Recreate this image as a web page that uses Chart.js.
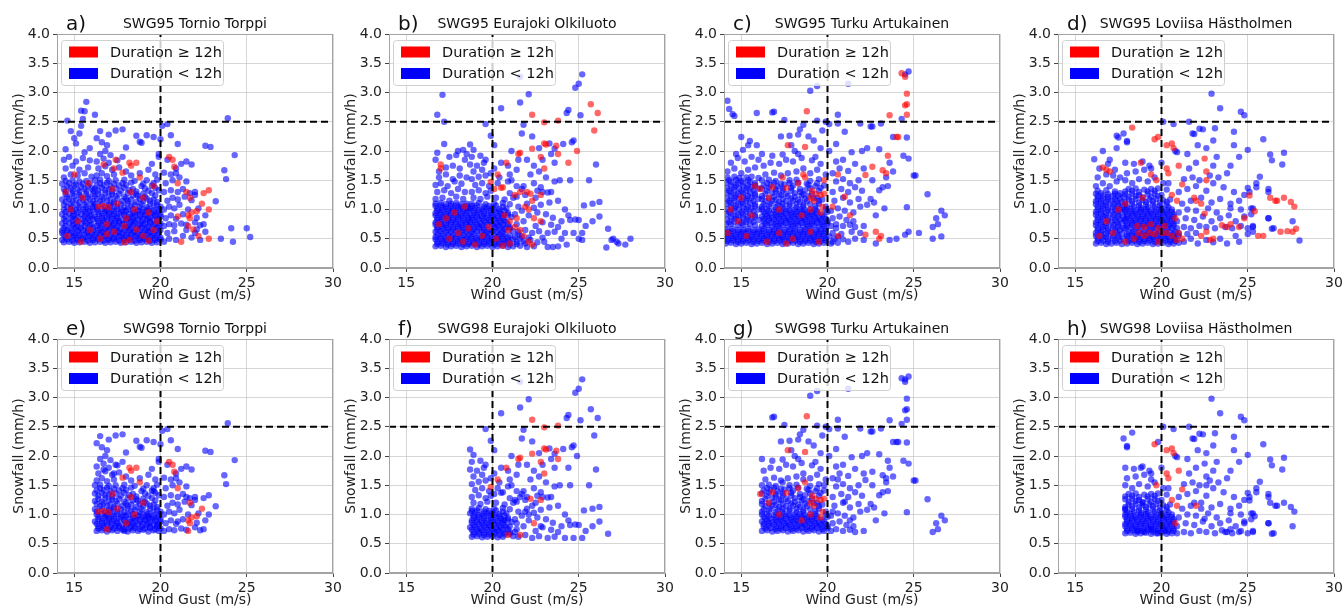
<!DOCTYPE html>
<html lang="en">
<head>
<meta charset="UTF-8">
<title>Snowfall vs wind gust</title>
<script src="https://cdn.jsdelivr.net/npm/chart.js@4"></script>
<style>
  html, body { margin: 0; padding: 0; background: #fff; overflow: hidden; }
  body { width: 1343px; height: 608px; position: relative; }
  canvas.panel { position: absolute; }
</style>
</head>
<body>
<script>
// ---- axis settings ----
const xTickValues = [15, 20, 25, 30];
const yTickValues = [0, 0.5, 1, 1.5, 2, 2.5, 3, 3.5, 4];
const xRange = [14, 30];
const yRange = [0, 4];
const gustLimit = 20;   // m/s
const snowLimit = 2.5;  // mm/h

// ---- Tornio Torppi (a, e) ----
// points seen in both SWG95 and SWG98 panels
const tornioBlueCore = [
  [16.3,.72],[16.6,.73],[16.9,.71],[17.2,.73],[17.5,.72],[17.8,.74],[18.1,.71],[18.4,.73],[18.7,.72],[19.0,.74],[19.3,.71],[19.6,.73],[19.9,.72],
  [16.4,.8],[16.7,.81],[17.1,.79],[17.4,.81],[17.6,.8],[18.0,.82],[18.3,.79],[18.5,.81],[18.9,.8],[19.2,.82],[19.4,.79],[19.8,.81],
  [16.2,.88],[16.6,.89],[16.9,.87],[17.2,.89],[17.5,.88],[17.9,.9],[18.2,.87],[18.5,.89],[18.8,.88],[19.1,.9],[19.4,.87],[19.7,.89],[20.0,.88],
  [16.4,.96],[16.8,.97],[17.0,.95],[17.3,.97],[17.7,.96],[18.0,.98],[18.4,.95],[18.7,.97],[19.0,.96],[19.3,.98],[19.6,.95],[19.9,.97],
  [16.3,1.05],[16.8,1.04],[17.1,1.06],[17.5,1.05],[17.9,1.04],[18.3,1.06],[18.8,1.05],[19.2,1.04],[19.6,1.06],[20.0,1.05],
  [16.5,1.14],[16.9,1.15],[17.3,1.13],[17.8,1.14],[18.1,1.15],[18.6,1.13],[19.0,1.14],[19.4,1.15],[19.8,1.13],
  [16.2,1.23],[16.6,1.22],[17.0,1.24],[17.4,1.23],[17.9,1.22],[18.4,1.24],[18.7,1.23],[19.1,1.22],[19.7,1.24],
  [16.4,1.32],[16.8,1.33],[17.2,1.31],[17.7,1.32],[18.2,1.33],[18.6,1.31],[19.3,1.32],[19.9,1.33],
  [16.3,1.41],[16.7,1.42],[17.1,1.4],[17.6,1.41],[18.0,1.42],[18.9,1.4],[19.5,1.41],
  [16.2,1.5],[16.5,1.51],[17.0,1.49],[17.4,1.5],[17.9,1.51],[18.5,1.49],[19.2,1.5],[19.8,1.51],
  [16.3,1.58],[16.6,1.62],[16.9,1.57],[17.3,1.6],[16.4,1.7],[16.8,1.74],[17.2,1.68],[17.6,1.72],[16.3,1.82],[16.7,1.87],[17.0,1.8],[17.5,1.84],
  [18.0,1.65],[18.3,1.58],[18.8,1.62],[19.3,1.68],[19.7,1.6],[19.5,1.78],[19.9,1.9],[20.2,1.63],[17.8,1.9],[16.5,1.95],[16.8,2.0],[17.1,1.93],
  [16.5,2.34],[17.4,2.35],[17.8,2.37],[17.0,2.28],[16.3,2.22],[16.9,2.1],[16.6,2.15],[18.6,2.26],[18.8,2.16],[18.9,2.14],[19.2,2.27],[19.6,2.24],
  [20.1,2.43],[20.4,2.46],[20.0,2.2],[20.6,2.27],[21.0,2.12],[18.0,2.06],[19.9,1.95],[22.6,2.09],[22.9,2.07],[23.9,2.56],[24.3,1.93],[23.7,1.67],[23.8,1.52],
  [20.2,.72],[20.5,.75],[20.8,.73],[21.2,.76],[21.5,.74],[22.0,.78],[22.3,.73],[22.5,.75],[20.3,.85],[20.6,.9],[20.9,.84],[21.3,.92],[22.1,.86],[22.6,.9],
  [20.2,1.0],[20.5,1.05],[20.8,1.02],[21.1,1.08],[21.6,1.0],[22.2,1.02],[20.4,1.15],[20.7,1.2],[21.0,1.17],[21.4,1.22],[21.8,1.16],[22.0,1.25],
  [20.2,1.3],[20.6,1.33],[21.0,1.3],[21.3,1.35],[21.7,1.28],[23.2,1.14],[20.3,1.45],[20.7,1.5],[20.6,1.6],[21.1,1.55],[21.5,1.48],[20.9,1.7],
  [21.2,1.78],[21.5,1.82],[21.8,1.77],[20.4,1.85],[20.9,1.62],[22.0,1.3]
];
const tornioBlueDenseCore = [
  [16.4,.76],[16.7,.77],[17.0,.75],[17.3,.76],[17.6,.77],[17.9,.75],[18.2,.76],[18.5,.77],[18.8,.75],[19.1,.76],[19.4,.77],[19.7,.75],[20.0,.76],
  [16.3,.84],[16.6,.85],[16.9,.83],[17.2,.84],[17.5,.85],[17.8,.83],[18.1,.84],[18.4,.85],[18.7,.83],[19.0,.84],[19.3,.85],[19.6,.83],[19.9,.84],
  [16.4,.92],[16.7,.93],[17.0,.91],[17.3,.92],[17.6,.93],[17.9,.91],[18.2,.92],[18.5,.93],[18.8,.91],[19.1,.92],[19.4,.93],[19.7,.91],[20.0,.92],
  [16.3,1.0],[16.6,1.01],[16.9,.99],[17.2,1.0],[17.5,1.01],[17.8,.99],[18.1,1.0],[18.4,1.01],[18.7,.99],[19.0,1.0],[19.3,1.01],[19.6,.99],[19.9,1.0],
  [16.2,1.09],[16.6,1.1],[17.0,1.08],[17.3,1.1],[17.7,1.09],[18.1,1.1],[18.5,1.08],[18.9,1.09],[19.4,1.1],[19.8,1.08],
  [16.3,1.18],[16.7,1.19],[17.1,1.17],[17.5,1.18],[18.0,1.19],[18.3,1.17],[18.8,1.18],[19.2,1.19],[19.6,1.17],
  [16.4,1.27],[16.8,1.28],[17.2,1.26],[17.6,1.27],[18.1,1.28],[18.6,1.26],[19.0,1.27],[19.5,1.28],
  [16.2,1.36],[16.6,1.37],[17.0,1.35],[17.4,1.36],[17.9,1.37],[18.4,1.35],[19.1,1.36],[19.7,1.37],
  [16.5,1.45],[16.9,1.46],[17.3,1.44],[17.8,1.45],[18.3,1.46],[19.0,1.44],[19.6,1.45]
];
const tornioRedCore = [
  [18.2,1.8],[18.6,1.8],[18.3,1.75],[17.8,1.63],[20.5,1.9],[20.7,1.85],[20.8,1.73],[21.0,1.45],[21.7,1.2],[21.6,.9],[21.7,.85],[21.8,.95],
  [21.6,.72],[22.1,.97],[22.4,1.1],[18.8,1.55],[19.0,1.2],[18.5,1.0],[17.5,1.1],[17.2,1.35],[16.4,1.05],[16.7,1.06],[17.0,1.04],[18.0,.85],
  [16.9,.75],[18.3,1.3]
];
// red in SWG95, blue in SWG98
const tornioSwitch = [
  [17.4,1.85],[17.3,1.7],[16.7,1.77],[22.5,1.28],[22.8,1.33],[22.8,1.0],[21.5,1.3],[21.0,.88],[19.3,.95],[19.6,1.4],[17.9,.72],[19.8,.8]
];
// only in SWG95
const tornioBlue95 = [
  [14.4,.44],[14.7,.45],[15.0,.43],[15.3,.44],[15.6,.45],[15.9,.43],[16.2,.44],[16.5,.45],[16.8,.43],[17.1,.44],[17.4,.45],[17.7,.43],[18.0,.44],[18.3,.45],[18.6,.43],[18.9,.44],[19.2,.45],[19.5,.43],[19.8,.44],
  [14.5,.52],[14.9,.53],[15.2,.51],[15.5,.52],[15.8,.53],[16.1,.51],[16.4,.52],[16.7,.53],[17.0,.51],[17.3,.52],[17.6,.53],[17.9,.51],[18.2,.52],[18.5,.53],[18.8,.51],[19.1,.52],[19.4,.53],[19.7,.51],[20.0,.52],
  [14.3,.6],[14.6,.61],[15.0,.59],[15.3,.6],[15.7,.61],[16.0,.59],[16.3,.6],[16.6,.61],[16.9,.59],[17.2,.6],[17.5,.61],[17.8,.59],[18.1,.6],[18.4,.61],[18.7,.59],[19.0,.6],[19.3,.61],[19.6,.59],[19.9,.6],
  [14.4,.68],[14.8,.67],[15.1,.69],[15.4,.68],[15.8,.67],[16.1,.69],[16.5,.68],[16.8,.67],[17.1,.69],[17.4,.68],[17.7,.67],[18.0,.69],[18.3,.68],[18.6,.67],[18.9,.69],[19.2,.68],[19.5,.67],[19.8,.69],
  [14.3,.76],[14.7,.77],[15.0,.75],[15.4,.76],[15.7,.77],[16.0,.75],[14.4,.84],[14.8,.85],[15.1,.83],[15.5,.84],[15.8,.85],[16.1,.83],
  [14.3,.92],[14.7,.93],[15.0,.91],[15.4,.92],[15.7,.93],[16.0,.91],[14.4,1.0],[14.8,1.01],[15.1,.99],[15.5,1.0],[15.8,1.01],[16.1,.99],
  [14.4,1.08],[14.8,1.09],[15.2,1.07],[15.6,1.08],[16.0,1.09],[14.3,1.17],[14.7,1.18],[15.1,1.16],[15.5,1.17],[15.9,1.18],
  [14.5,1.26],[14.9,1.27],[15.3,1.25],[15.7,1.26],[16.1,1.27],[14.4,1.35],[14.8,1.36],[15.2,1.34],[15.6,1.35],[16.0,1.36],
  [14.3,1.44],[14.7,1.45],[15.1,1.43],[15.5,1.44],[15.9,1.45],
  [14.4,1.55],[14.8,1.6],[15.2,1.58],[15.6,1.62],[16.0,1.56],[14.5,1.7],[14.9,1.75],[15.3,1.68],[15.8,1.72],[14.4,1.85],[14.7,1.9],[15.1,1.82],
  [15.5,1.88],[15.9,1.84],[14.5,2.03],[15.1,2.13],[15.9,2.05],[15.6,1.98],
  [15.7,2.84],[15.4,2.69],[15.6,2.68],[16.2,2.62],[14.6,2.52],[15.5,2.55],[15.4,2.43],[14.8,2.34],[15.0,2.22],[15.3,2.3],
  [20.2,.45],[20.5,.5],[20.9,.48],[21.3,.55],[21.8,.52],[22.3,.48],[20.4,.6],[20.8,.63],[21.5,.65],[22.0,.6],[22.6,.62],[23.5,.5],[24.2,.45],
  [24.1,.68],[25.0,.68],[25.2,.53],[22.1,.66]
];
const tornioBlueDense95 = [
  [14.3,.48],[14.6,.49],[14.9,.47],[15.2,.48],[15.5,.49],[15.8,.47],[16.1,.48],[16.4,.49],[16.7,.47],[17.0,.48],[17.3,.49],[17.6,.47],[17.9,.48],[18.2,.49],[18.5,.47],[18.8,.48],[19.1,.49],[19.4,.47],[19.7,.48],[20.0,.49],
  [14.4,.56],[14.7,.57],[15.0,.55],[15.3,.56],[15.6,.57],[15.9,.55],[16.2,.56],[16.5,.57],[16.8,.55],[17.1,.56],[17.4,.57],[17.7,.55],[18.0,.56],[18.3,.57],[18.6,.55],[18.9,.56],[19.2,.57],[19.5,.55],[19.8,.56],
  [14.3,.64],[14.6,.65],[14.9,.63],[15.2,.64],[15.5,.65],[15.8,.63],[16.1,.64],[16.4,.65],[16.7,.63],[17.0,.64],[17.3,.65],[17.6,.63],[17.9,.64],[18.2,.65],[18.5,.63],[18.8,.64],[19.1,.65],[19.4,.63],[19.7,.64],[20.0,.65],
  [14.5,.72],[14.9,.73],[15.2,.71],[15.6,.72],[15.9,.73],[14.5,.8],[14.9,.81],[15.2,.79],[15.6,.8],[15.9,.81],
  [14.5,.88],[14.9,.89],[15.2,.87],[15.6,.88],[15.9,.89],[14.5,.96],[14.9,.97],[15.2,.95],[15.6,.96],[15.9,.97],
  [14.6,1.04],[14.9,1.05],[15.3,1.03],[15.7,1.04],[16.1,1.05],[14.5,1.13],[14.9,1.14],[15.3,1.12],[15.7,1.13],[16.1,1.14],
  [14.6,1.22],[15.0,1.23],[15.4,1.21],[15.8,1.22],[14.5,1.31],[14.9,1.32],[15.3,1.3],[15.7,1.31],[16.1,1.32],
  [14.6,1.4],[15.0,1.41],[15.4,1.39],[15.8,1.4],[14.5,1.49],[14.9,1.5],[15.3,1.48],[15.7,1.49]
];
const tornioRed95 = [
  [14.6,.55],[15.2,.8],[15.5,1.2],[14.8,1.0],[15.9,.65],[16.5,.5],[17.3,.62],[18.2,.48],[19.0,.55],[19.6,.65],[15.4,.45],[14.5,1.3],
  [15.8,1.45],[16.9,.58],[18.6,.66],[21.2,.45],[22.2,.55],[22.8,.5],[21.9,.66],[17.9,.44],[15.0,1.6],[19.3,.47]
];

// ---- Eurajoki Olkiluoto (b, f) ----
const eurajokiBlueCore = [
  [18.8,.62],[19.1,.63],[19.4,.61],[19.7,.62],[20.0,.63],[20.3,.61],[20.6,.62],[21.2,.63],
  [18.9,.7],[19.2,.71],[19.5,.69],[20.1,.7],[20.4,.71],[20.7,.69],[21.0,.7],
  [18.7,.78],[19.0,.79],[19.3,.77],[19.6,.78],[19.9,.79],[20.2,.77],[20.5,.78],[20.8,.79],
  [18.8,.86],[19.1,.87],[19.4,.85],[19.7,.86],[20.0,.87],[20.3,.85],[20.6,.86],[21.1,.87],
  [18.9,.94],[19.2,.95],[19.5,.93],[19.9,.94],[20.2,.95],[20.5,.93],[20.9,.94],
  [18.7,1.02],[19.0,1.03],[19.4,1.01],[19.7,1.02],[20.0,1.03],[20.4,1.01],[20.8,1.02],
  [18.8,1.1],[19.2,1.11],[19.6,1.09],[20.1,1.1],[20.6,1.11],[21.0,1.09],
  [18.9,1.2],[19.3,1.18],[19.7,1.22],[20.2,1.2],[20.7,1.17],[21.2,1.2],[18.8,1.3],[19.2,1.33],[19.6,1.28],[19.9,1.32],[21.0,1.28],[21.7,1.35],
  [19.0,1.42],[19.4,1.45],[19.8,1.4],[20.3,1.45],[20.9,1.48],[21.4,1.4],[18.8,1.52],[19.2,1.56],[19.6,1.58],[18.9,1.65],[19.4,1.68],[19.9,1.62],
  [20.4,1.55],[21.0,1.6],[18.7,1.77],[19.1,1.75],[19.5,1.8],[18.8,1.9],[19.3,1.92],[18.7,2.11],[18.9,2.02],[19.6,1.85],[20.1,1.7],[21.1,1.5],
  [21.5,.62],[21.9,.65],[22.3,.6],[22.7,.63],[23.2,.6],[23.6,.62],[24.2,.6],[24.7,.6],[25.2,.6],
  [21.4,.75],[21.8,.8],[22.5,.72],[22.9,.78],[23.4,.74],[23.8,.7],[24.5,.82],[24.8,.83],[25.0,.82],[25.4,.72],[25.8,.8],[26.2,.88],[26.7,.67],
  [21.3,.92],[21.7,.98],[22.1,.9],[22.6,.95],[23.1,.92],[23.5,.86],[24.0,.8],[24.4,.9],
  [21.5,1.05],[22.0,1.1],[22.4,1.03],[22.8,1.08],[23.3,1.12],[23.8,1.15],[24.2,1.0],[25.3,1.07],[25.8,1.1],[26.2,1.13],
  [21.4,1.22],[21.9,1.25],[22.5,1.2],[22.9,1.3],[23.2,1.29],[23.4,1.3],[22.6,1.32],[21.8,1.4],[22.4,1.45],[22.8,1.38],[23.6,1.48],[23.9,1.5],[24.5,1.5],
  [19.6,2.46],[19.9,2.26],[21.6,3.27],[22.1,2.97],[21.6,2.83],[20.5,2.73],[21.7,2.3],[21.8,2.45],[22.3,2.25],[22.7,2.05],[23.3,2.13],[23.6,2.04],
  [24.1,2.12],[24.3,2.65],[24.4,2.7],[24.8,3.08],[25.0,3.15],[25.2,3.31],[24.6,2.15],[24.7,2.18],[25.1,2.61],[26.0,1.77],[25.6,1.5],
  [21.1,2.0],[21.5,1.85],[22.0,1.85],[22.4,1.75],[22.9,1.85],[23.4,1.95],[23.6,1.8],[22.2,1.6],[22.7,1.65],[23.1,1.55],[20.5,1.8],[20.9,1.75],[20.1,2.1],[21.4,1.68]
];
const eurajokiBlueDenseCore = [
  [18.9,.66],[19.2,.67],[19.5,.65],[19.8,.66],[20.1,.67],[20.4,.65],[20.7,.66],[21.0,.67],
  [18.8,.74],[19.1,.75],[19.4,.73],[19.7,.74],[20.0,.75],[20.3,.73],[20.6,.74],[20.9,.75],
  [18.9,.82],[19.2,.83],[19.5,.81],[19.8,.82],[20.1,.83],[20.4,.81],[20.7,.82],
  [18.8,.9],[19.1,.91],[19.4,.89],[19.7,.9],[20.0,.91],[20.3,.89],[20.6,.9],[20.9,.91],
  [18.9,.98],[19.2,.99],[19.5,.97],[19.8,.98],[20.1,.99],[20.4,.97],[20.7,.98],
  [18.8,1.06],[19.1,1.07],[19.5,1.05],[19.8,1.06],[20.2,1.07],[20.6,1.05]
];
const eurajokiRedCore = [
  [19.9,1.47],[20.3,1.6],[20.8,1.8],[21.5,1.95],[21.6,1.97],[22.3,2.04],[22.8,1.9],[22.3,2.62],[23.0,2.49],[23.8,2.52],[23.1,2.11],[23.0,2.13],
  [23.7,2.09],[23.8,1.95],[23.0,1.7],[22.2,1.27],[22.8,1.25],[22.4,.85],[21.6,.65],[20.9,.65]
];
const eurajokiSwitch = [
  [25.7,2.8],[26.1,2.65],[25.9,2.35],[24.9,2.0],[24.4,1.8],[21.6,1.3],[21.3,1.25],[20.6,1.38],[20.5,1.37],[20.1,1.35],[22.0,1.3],[22.3,1.15],
  [21.9,1.05],[22.1,1.0],[22.8,.8],[21.0,.8],[21.4,.85],[21.3,.7],[20.7,.9],[19.8,.7]
];
const eurajokiBlue95 = [
  [16.7,.37],[17.0,.38],[17.3,.36],[17.6,.37],[17.9,.38],[18.2,.36],[18.5,.37],[18.8,.38],[19.1,.36],[19.4,.37],[19.7,.38],[20.0,.36],[20.3,.37],[20.6,.38],[20.9,.36],[21.2,.37],[21.6,.38],[22.0,.36],[22.4,.37],[23.2,.36],[23.5,.36],[23.8,.37],[26.6,.35],
  [16.8,.45],[17.1,.46],[17.4,.44],[17.7,.45],[18.0,.46],[18.3,.44],[18.6,.45],[18.9,.46],[19.2,.44],[19.5,.45],[19.8,.46],[20.1,.44],[20.4,.45],[20.7,.46],[21.0,.44],[21.4,.45],[21.8,.46],[22.6,.44],[24.0,.5],[27.2,.45],
  [16.7,.53],[17.0,.54],[17.3,.52],[17.6,.53],[17.9,.54],[18.2,.52],[18.5,.53],[18.8,.54],[19.1,.52],[19.4,.53],[19.7,.54],[20.0,.52],[20.3,.53],[20.6,.54],[20.9,.52],[21.3,.53],[21.7,.54],[22.1,.52],[22.9,.52],[25.2,.48],[27.0,.5],[28.0,.5],
  [16.7,.62],[17.0,.63],[17.3,.61],[17.6,.62],[17.9,.63],[18.2,.61],[18.5,.62],
  [16.8,.7],[17.1,.71],[17.4,.69],[17.7,.7],[18.0,.71],[18.3,.69],[18.6,.7],
  [16.7,.78],[17.0,.79],[17.3,.77],[17.6,.78],[17.9,.79],[18.2,.77],[18.5,.78],
  [16.8,.86],[17.1,.87],[17.4,.85],[17.7,.86],[18.0,.87],[18.3,.85],[18.6,.86],
  [16.7,.94],[17.0,.95],[17.3,.93],[17.6,.94],[17.9,.95],[18.2,.93],[18.5,.94],
  [16.8,1.02],[17.1,1.03],[17.4,1.01],[17.7,1.02],[18.0,1.03],[18.3,1.01],[18.6,1.02],
  [16.7,1.1],[17.0,1.11],[17.3,1.09],[17.6,1.1],[17.9,1.11],[18.2,1.09],[18.5,1.1],
  [16.7,1.18],[17.1,1.2],[17.5,1.15],[17.9,1.22],[18.3,1.18],[16.8,1.3],[17.2,1.33],[17.6,1.28],[18.0,1.35],[18.4,1.3],
  [16.7,1.42],[17.0,1.45],[17.4,1.4],[17.8,1.48],[18.2,1.44],[16.9,1.55],[17.3,1.6],[17.7,1.52],[18.1,1.58],[18.5,1.55],
  [17.1,2.96],[16.8,2.62],[17.2,2.5],[16.8,1.97],[17.2,2.12],[17.5,1.9],[17.9,1.93],[18.0,2.0],[18.3,2.02],[18.5,1.95],[18.4,1.85],[17.7,1.75],
  [16.9,1.65],[17.3,1.72],[18.1,1.7],[16.7,1.85],
  [27.3,.42],[27.7,.4],[26.9,.48],[24.3,.4],[23.0,.45],[25.0,.5]
];
const eurajokiBlueDense95 = [
  [16.8,.41],[17.1,.42],[17.4,.4],[17.7,.41],[18.0,.42],[18.3,.4],[18.6,.41],[18.9,.42],[19.2,.4],[19.5,.41],[19.8,.42],[20.1,.4],[20.4,.41],[20.7,.42],[21.0,.4],[21.4,.41],[21.9,.42],
  [16.7,.49],[17.0,.5],[17.3,.48],[17.6,.49],[17.9,.5],[18.2,.48],[18.5,.49],[18.8,.5],[19.1,.48],[19.4,.49],[19.7,.5],[20.0,.48],[20.3,.49],[20.6,.5],[20.9,.48],[21.2,.49],[21.6,.5],[22.2,.48],
  [16.8,.57],[17.1,.58],[17.4,.56],[17.7,.57],[18.0,.58],[18.3,.56],[18.6,.57],[18.9,.58],[19.2,.56],[19.5,.57],[19.8,.58],[20.1,.56],[20.4,.57],[20.7,.58],[21.0,.56],[21.5,.57],
  [16.8,.66],[17.1,.67],[17.4,.65],[17.7,.66],[18.0,.67],[18.3,.65],[18.6,.66],
  [16.7,.74],[17.0,.75],[17.3,.73],[17.6,.74],[17.9,.75],[18.2,.73],[18.5,.74],
  [16.8,.82],[17.1,.83],[17.4,.81],[17.7,.82],[18.0,.83],[18.3,.81],[18.6,.82],
  [16.7,.9],[17.0,.91],[17.3,.89],[17.6,.9],[17.9,.91],[18.2,.89],[18.5,.9],
  [16.8,.98],[17.1,.99],[17.4,.97],[17.7,.98],[18.0,.99],[18.3,.97],[18.6,.98],
  [16.7,1.06],[17.0,1.07],[17.3,1.05],[17.6,1.06],[17.9,1.07],[18.2,1.05],[18.5,1.06]
];
const eurajokiRed95 = [
  [17.0,1.77],[17.0,1.7],[18.0,.6],[17.5,.5],[19.4,.55],[21.0,.42],[18.3,.45],[22.1,.45],[22.3,.4],[21.8,.55],[17.8,.95],[18.4,1.05],
  [16.9,.75],[20.2,.5],[19.0,.4],[20.6,.38],[17.3,.85],[18.6,.68]
];

// ---- Turku Artukainen (c, g) ----
const turkuBlueCore = [
  [16.2,.72],[16.5,.73],[16.8,.71],[17.1,.72],[17.4,.73],[17.7,.71],[18.0,.72],[18.3,.73],[18.6,.71],[18.9,.72],[19.2,.73],[19.5,.71],[19.8,.72],
  [16.3,.8],[16.6,.81],[17.0,.79],[17.3,.8],[17.6,.81],[17.9,.79],[18.2,.8],[18.5,.81],[18.8,.79],[19.1,.8],[19.4,.81],[19.7,.79],[20.0,.8],
  [16.2,.88],[16.5,.89],[16.8,.87],[17.1,.88],[17.4,.89],[17.7,.87],[18.0,.88],[18.3,.89],[18.6,.87],[18.9,.88],[19.2,.89],[19.5,.87],[19.8,.88],
  [16.3,.96],[16.6,.97],[17.0,.95],[17.3,.96],[17.6,.97],[17.9,.95],[18.2,.96],[18.5,.97],[18.8,.95],[19.1,.96],[19.4,.97],[20.0,.96],
  [16.2,1.05],[16.6,1.06],[17.0,1.04],[17.4,1.05],[17.8,1.06],[18.2,1.04],[18.6,1.05],[19.3,1.06],[19.9,1.05],
  [16.4,1.14],[16.8,1.15],[17.2,1.13],[17.6,1.14],[18.0,1.15],[18.4,1.13],[18.8,1.14],[19.5,1.15],
  [16.2,1.23],[16.9,1.22],[17.3,1.24],[17.7,1.23],[18.1,1.22],[18.5,1.24],[18.9,1.23],[19.4,1.2],
  [16.5,1.32],[17.0,1.31],[17.4,1.33],[17.9,1.32],[18.4,1.3],[18.7,1.33],[19.5,1.32],
  [16.3,1.41],[16.7,1.42],[17.1,1.4],[17.5,1.43],[18.0,1.41],[18.9,1.42],[19.3,1.4],[19.8,1.41],
  [16.2,1.5],[16.6,1.51],[17.0,1.49],[17.8,1.5],[18.2,1.51],[19.0,1.49],[19.5,1.52],
  [16.4,1.6],[16.9,1.63],[17.3,1.58],[17.7,1.62],[18.2,1.65],[18.6,1.7],[19.0,1.62],[19.4,1.68],[19.9,1.6],[16.3,1.75],[16.7,1.8],[17.2,1.78],
  [17.6,1.85],[18.0,1.82],[18.5,1.88],[19.1,1.84],[19.6,1.78],[16.2,1.95],[16.8,1.92],[17.4,1.94],[18.3,1.95],[19.3,1.9],
  [16.8,2.66],[16.9,2.67],[17.5,2.53],[17.3,2.25],[17.8,2.26],[18.3,2.28],[18.4,2.37],[18.9,2.25],[18.6,2.45],[19.4,2.52],[19.9,2.5],[20.1,2.46],
  [20.6,2.62],[20.6,2.47],[21.2,3.15],[19.4,3.11],[19.0,3.03],[19.7,2.35],[21.0,2.33],[21.9,2.47],[22.5,2.42],[22.6,2.42],[23.1,2.47],[24.3,2.55],
  [24.7,3.36],[24.5,3.31],[23.8,2.24],[24.6,2.23],[24.4,1.92],[24.7,1.87],[25.1,1.58],[25.0,1.58],[25.8,1.26],[24.6,1.04],[26.6,.98],[26.8,.9],
  [26.3,.85],[26.4,.75],[26.1,.7],[17.9,2.1],[18.1,2.0],[19.2,2.18],[19.6,2.05],[20.1,2.0],[20.5,2.12],[21.4,1.98],[22.0,2.0],[22.3,2.05],[23.0,2.03],
  [20.2,.72],[20.5,.75],[20.9,.72],[21.3,.74],[20.3,.85],[20.7,.88],[21.1,.82],[21.5,.8],[20.2,.98],[20.6,1.02],[21.0,.98],[21.5,.95],
  [21.9,1.05],[22.3,1.08],[22.7,1.12],[23.3,1.02],[20.4,1.15],[20.9,1.2],[21.3,1.12],[21.8,1.18],[22.5,1.18],[20.3,1.3],[20.8,1.35],[21.2,1.3],
  [21.6,1.38],[22.0,1.32],[23.0,1.33],[23.5,1.4],[20.5,1.48],[20.9,1.52],[21.3,1.45],[21.8,1.5],[22.6,1.5],[23.2,1.38],[20.3,1.62],[20.7,1.7],
  [21.2,1.66],[20.5,1.82],[20.9,1.85],[21.6,1.78],[22.1,1.7],[23.4,1.55],[23.8,1.65],[23.6,1.8],[22.8,.9],[22.1,.72],[21.6,.7]
];
const turkuBlueDenseCore = [
  [16.4,.76],[16.7,.77],[17.0,.75],[17.3,.76],[17.6,.77],[17.9,.75],[18.2,.76],[18.5,.77],[18.8,.75],[19.1,.76],[19.4,.77],[19.7,.75],[20.0,.77],
  [16.3,.84],[16.6,.85],[16.9,.83],[17.2,.84],[17.5,.85],[17.8,.83],[18.1,.84],[18.4,.85],[18.7,.83],[19.0,.84],[19.3,.85],[19.6,.83],[19.9,.84],
  [16.4,.92],[16.7,.93],[17.0,.91],[17.3,.92],[17.6,.93],[17.9,.91],[18.2,.92],[18.5,.93],[18.8,.91],[19.1,.92],[19.4,.93],[19.7,.91],
  [16.2,1.0],[16.5,1.01],[16.9,.99],[17.2,1.0],[17.5,1.01],[17.8,.99],[18.1,1.0],[18.4,1.01],[18.7,.99],[19.0,1.0],[19.3,1.01],[19.9,1.0],
  [16.3,1.09],[16.7,1.1],[17.1,1.08],[17.4,1.1],[17.8,1.09],[18.2,1.1],[18.6,1.08],[19.0,1.09],[19.5,1.1],
  [16.2,1.18],[16.6,1.19],[17.0,1.17],[17.4,1.18],[17.9,1.19],[18.3,1.17],[18.7,1.18],[19.2,1.19],[19.7,1.17],
  [16.4,1.27],[16.8,1.28],[17.2,1.26],[17.6,1.27],[18.1,1.28],[18.6,1.26],[19.1,1.27],
  [16.2,1.36],[16.6,1.37],[17.0,1.35],[17.4,1.36],[17.9,1.37],[18.4,1.35],[19.0,1.36],[19.6,1.37],
  [16.5,1.45],[16.9,1.46],[17.3,1.44],[17.8,1.45],[18.3,1.46],[18.8,1.44],[19.4,1.45]
];
const turkuRedCore = [
  [18.8,2.68],[17.7,2.1],[18.7,2.07],[16.1,1.35],[16.8,1.38],[17.6,1.37],[18.7,1.55],[19.0,1.2],[19.2,1.15],[19.3,1.27],[19.6,1.25],[19.8,1.27],
  [19.7,1.05],[19.6,.95],[19.0,1.0],[16.6,1.2],[17.2,1.0],[18.5,.9],[18.3,1.45],[19.1,1.32]
];
const turkuSwitch = [
  [24.5,3.27],[24.3,3.33],[24.6,2.98],[24.6,2.8],[24.5,2.78],[24.6,2.62],[23.6,2.61],[24.1,2.24],[24.0,2.24],[23.5,1.92],[23.2,1.67],[23.4,1.62],
  [22.6,1.73],[22.2,1.59],[21.0,1.22],[20.6,1.6],[20.3,1.05],[21.3,.9],[19.8,1.5],[18.6,1.6],[17.4,1.55]
];
const turkuBlue95 = [
  [14.1,.42],[14.4,.43],[14.7,.41],[15.0,.42],[15.3,.43],[15.6,.41],[15.9,.42],[16.2,.43],[16.5,.41],[16.8,.42],[17.1,.43],[17.4,.41],[17.7,.42],[18.0,.43],[18.3,.41],[18.6,.42],[18.9,.43],[19.2,.41],[19.5,.42],[19.8,.43],[20.2,.42],[20.6,.43],
  [14.2,.5],[14.5,.51],[14.8,.49],[15.1,.5],[15.4,.51],[15.7,.49],[16.0,.5],[16.3,.51],[16.6,.49],[16.9,.5],[17.2,.51],[17.5,.49],[17.8,.5],[18.1,.51],[18.4,.49],[18.7,.5],[19.0,.51],[19.3,.49],[19.6,.5],[19.9,.51],[20.4,.5],[20.9,.49],
  [14.1,.58],[14.4,.59],[14.7,.57],[15.0,.58],[15.3,.59],[15.6,.57],[15.9,.58],[16.2,.59],[16.5,.57],[16.8,.58],[17.1,.59],[17.4,.57],[17.7,.58],[18.0,.59],[18.3,.57],[18.6,.58],[18.9,.59],[19.2,.57],[19.5,.58],[19.8,.59],[20.3,.6],[20.8,.58],
  [14.2,.66],[14.5,.67],[14.8,.65],[15.1,.66],[15.4,.67],[15.7,.65],[16.0,.66],[16.3,.67],[16.6,.65],[16.9,.66],[17.2,.67],[17.5,.65],[17.8,.66],[18.1,.67],[18.4,.65],[18.7,.66],[19.0,.67],[19.3,.65],[19.6,.66],[19.9,.67],
  [21.2,.45],[21.6,.5],[22.1,.48],[22.8,.42],[23.6,.48],[24.0,.5],[24.5,.57],[24.7,.62],[25.3,.6],[26.1,.5],[26.6,.54],[21.4,.62],[21.9,.6],[20.5,.68],
  [14.1,.74],[14.4,.75],[14.8,.73],[15.1,.74],[15.5,.75],[15.8,.73],[14.2,.83],[14.6,.84],[14.9,.82],[15.3,.83],[15.6,.84],[16.0,.82],
  [14.1,.92],[14.4,.93],[14.8,.91],[15.1,.92],[15.5,.93],[15.8,.91],[14.2,1.01],[14.6,1.02],[14.9,1.0],[15.3,1.01],[15.6,1.02],[16.0,1.0],
  [14.1,1.1],[14.4,1.11],[14.8,1.09],[15.1,1.1],[15.5,1.11],[15.8,1.09],[14.2,1.19],[14.6,1.2],[14.9,1.18],[15.3,1.19],[15.6,1.2],[16.0,1.18],
  [14.1,1.28],[14.4,1.29],[14.8,1.27],[15.1,1.28],[15.5,1.29],[15.8,1.27],[14.2,1.37],[14.6,1.38],[14.9,1.36],[15.3,1.37],[15.6,1.38],[16.0,1.36],
  [14.1,1.46],[14.4,1.47],[14.8,1.45],[15.1,1.46],[15.5,1.47],[15.8,1.45],[14.2,1.55],[14.6,1.56],[14.9,1.54],[15.3,1.55],[15.6,1.56],[16.0,1.54],
  [14.2,1.65],[14.6,1.7],[15.0,1.62],[15.4,1.68],[15.8,1.72],[14.4,1.8],[14.8,1.88],[15.2,1.82],[15.6,1.9],[16.0,1.85],[14.7,1.95],[15.1,2.02],
  [14.2,2.86],[14.3,2.72],[14.6,2.6],[14.5,2.63],[15.9,2.65],[15.0,2.24],[15.4,2.1],[15.5,2.17],[15.9,2.1]
];
const turkuBlueDense95 = [
  [14.2,.46],[14.5,.47],[14.8,.45],[15.1,.46],[15.4,.47],[15.7,.45],[16.0,.46],[16.3,.47],[16.6,.45],[16.9,.46],[17.2,.47],[17.5,.45],[17.8,.46],[18.1,.47],[18.4,.45],[18.7,.46],[19.0,.47],[19.3,.45],[19.6,.46],[19.9,.47],[20.3,.45],
  [14.1,.54],[14.4,.55],[14.7,.53],[15.0,.54],[15.3,.55],[15.6,.53],[15.9,.54],[16.2,.55],[16.5,.53],[16.8,.54],[17.1,.55],[17.4,.53],[17.7,.54],[18.0,.55],[18.3,.53],[18.6,.54],[18.9,.55],[19.2,.53],[19.5,.54],[19.8,.55],[20.1,.54],[20.6,.53],
  [14.2,.62],[14.5,.63],[14.8,.61],[15.1,.62],[15.4,.63],[15.7,.61],[16.0,.62],[16.3,.63],[16.6,.61],[16.9,.62],[17.2,.63],[17.5,.61],[17.8,.62],[18.1,.63],[18.4,.61],[18.7,.62],[19.0,.63],[19.3,.61],[19.6,.62],[19.9,.63],
  [14.3,.78],[14.6,.79],[15.0,.77],[15.3,.78],[15.7,.79],[14.4,.87],[14.7,.88],[15.1,.86],[15.4,.87],[15.8,.88],
  [14.3,.96],[14.6,.97],[15.0,.95],[15.3,.96],[15.7,.97],[14.4,1.05],[14.7,1.06],[15.1,1.04],[15.4,1.05],[15.8,1.06],
  [14.3,1.14],[14.6,1.15],[15.0,1.13],[15.3,1.14],[15.7,1.15],[14.4,1.23],[14.7,1.24],[15.1,1.22],[15.4,1.23],[15.8,1.24],
  [14.3,1.32],[14.6,1.33],[15.0,1.31],[15.3,1.32],[15.7,1.33],[14.4,1.41],[14.7,1.42],[15.1,1.4],[15.4,1.41],[15.8,1.42],
  [14.3,1.5],[14.7,1.51],[15.0,1.49],[15.4,1.5]
];
const turkuRed95 = [
  [14.8,.8],[15.3,.55],[15.0,1.2],[15.6,.9],[16.5,.45],[17.2,.6],[18.0,.5],[19.0,.62],[19.5,.45],[14.4,1.0],[15.8,1.4],[22.8,.62],
  [23.0,.5],[23.1,.55],[22.2,.57],[20.6,.55],[17.6,.42],[14.2,.6]
];

// ---- Loviisa Hästholmen (d, h) ----
const loviisaBlueCore = [
  [17.9,.68],[18.2,.69],[18.5,.67],[18.8,.68],[19.1,.69],[19.4,.67],[19.7,.68],[20.0,.69],[20.3,.67],[20.6,.68],
  [18.0,.76],[18.3,.77],[18.6,.75],[18.9,.76],[19.2,.77],[19.5,.75],[19.8,.76],[20.1,.77],[20.4,.75],[20.7,.76],
  [17.9,.84],[18.2,.85],[18.5,.83],[18.8,.84],[19.1,.85],[19.4,.83],[19.7,.84],[20.0,.85],[20.3,.83],[20.6,.84],
  [18.0,.92],[18.3,.93],[18.6,.91],[18.9,.92],[19.2,.93],[19.5,.91],[19.8,.92],[20.1,.93],[20.4,.91],[20.7,.92],
  [17.9,1.0],[18.2,1.01],[18.5,.99],[18.8,1.0],[19.1,1.01],[19.4,.99],[19.7,1.0],[20.0,1.01],[20.3,.99],[20.6,1.0],
  [17.9,1.08],[18.3,1.09],[18.7,1.07],[19.1,1.08],[19.5,1.09],[19.9,1.07],[20.3,1.08],
  [18.1,1.17],[18.5,1.18],[18.9,1.16],[19.3,1.17],[19.7,1.18],[20.1,1.16],[20.5,1.17],
  [17.9,1.26],[18.3,1.27],[18.7,1.25],[19.2,1.26],[19.6,1.27],[20.0,1.25],
  [18.1,1.35],[18.5,1.36],[19.0,1.34],[19.4,1.35],[19.8,1.36],[20.3,1.34],
  [17.9,1.5],[18.3,1.45],[18.7,1.52],[19.2,1.48],[19.6,1.55],[20.1,1.45],[18.0,1.62],[18.5,1.65],[19.0,1.68],[19.4,1.7],[17.9,1.8],[18.4,1.78],
  [18.9,1.82],[19.3,1.75],[20.0,1.8],[20.4,1.45],
  [20.9,.68],[21.3,.7],[21.7,.68],[22.2,.72],[22.6,.7],[23.1,.68],[23.7,.7],[24.1,.68],[24.6,.72],[25.0,.68],[25.3,.72],
  [20.9,.8],[21.4,.85],[21.9,.82],[22.4,.88],[22.9,.8],[23.4,.85],[23.9,.9],[24.3,.8],[24.8,.88],[25.2,.92],[26.2,.85],
  [21.0,.95],[21.5,1.0],[22.0,.98],[22.7,1.02],[23.2,.95],[24.0,1.02],[24.6,1.0],[25.3,1.02],
  [21.2,1.1],[21.7,1.15],[22.3,1.2],[22.9,1.12],[23.4,1.18],[24.0,1.1],[24.5,1.15],[24.8,1.25],[25.1,1.3],[25.5,1.38],
  [21.0,1.3],[21.5,1.35],[22.0,1.4],[22.6,1.32],[23.0,1.45],[23.6,1.38],[24.2,1.3],
  [21.3,1.52],[21.8,1.55],[22.2,1.5],[22.8,1.58],[23.3,1.55],[23.8,1.62],[21.6,1.7],[22.0,1.8],[23.0,1.75],
  [22.9,2.98],[23.4,2.73],[24.6,2.67],[24.8,2.61],[20.1,2.5],[20.7,2.46],[21.6,2.5],[21.9,2.29],[21.8,2.3],[22.2,2.38],[22.4,2.37],[23.1,2.39],
  [24.2,2.33],[17.8,2.3],[18.0,2.15],[18.0,2.17],[20.9,1.98],[20.8,2.0],[23.0,2.18],[24.2,2.1],[24.5,1.9],[25.0,2.02],[25.9,2.2],[26.3,1.94],
  [26.4,1.84],[27.1,1.97],[27.0,1.77],[25.7,1.56],[25.5,1.45],[25.0,1.37],[26.2,1.35],[26.2,1.3],[26.2,.85],[25.2,1.02],[25.3,.7],[27.6,.8],
  [26.5,.68],[26.4,.67],[22.6,2.05],[23.2,1.9],[24.0,1.75],[21.5,1.95],[22.1,2.1]
];
const loviisaBlueDenseCore = [
  [18.0,.72],[18.3,.73],[18.6,.71],[18.9,.72],[19.2,.73],[19.5,.71],[19.8,.72],[20.1,.73],[20.4,.71],[20.7,.72],
  [17.9,.8],[18.2,.81],[18.5,.79],[18.8,.8],[19.1,.81],[19.4,.79],[19.7,.8],[20.0,.81],[20.3,.79],[20.6,.8],
  [18.0,.88],[18.3,.89],[18.6,.87],[18.9,.88],[19.2,.89],[19.5,.87],[19.8,.88],[20.1,.89],[20.4,.87],[20.7,.88],
  [17.9,.96],[18.2,.97],[18.5,.95],[18.8,.96],[19.1,.97],[19.4,.95],[19.7,.96],[20.0,.97],[20.3,.95],[20.6,.96],
  [18.0,1.04],[18.4,1.05],[18.8,1.03],[19.2,1.04],[19.6,1.05],[20.0,1.03],[20.4,1.04],
  [17.9,1.13],[18.3,1.14],[18.7,1.12],[19.1,1.13],[19.5,1.14],[19.9,1.12],[20.3,1.13],
  [18.1,1.22],[18.5,1.23],[18.9,1.21],[19.4,1.22],[19.8,1.23],
  [17.9,1.31],[18.3,1.32],[18.7,1.3],[19.2,1.31],[19.6,1.32]
];
const loviisaRedCore = [
  [19.6,2.2],[20.3,2.1],[20.6,2.13],[20.7,2.05],[20.3,1.7],[20.4,1.62],[21.0,1.75],[21.2,1.43],[20.9,1.15],[20.6,1.25],[22.0,1.15],[20.8,.85],[19.7,1.5]
];
const loviisaSwitch = [
  [18.3,2.4],[19.8,2.24],[22.5,1.87],[22.6,1.65],[22.6,1.5],[21.9,1.2],[22.3,1.1],[22.5,.93],[25.1,1.24],[26.3,1.2],[26.7,1.15],[26.6,1.15],
  [27.1,1.2],[27.5,1.13],[27.7,1.05],[25.4,.97],[24.8,.85],[24.0,.75],[23.5,.73],[23.8,.7],[24.5,.7],[18.6,.72],[19.0,.7],[19.4,.75],
  [19.8,.68],[20.2,.72],[18.8,1.8],[19.4,1.6],[18.9,1.2],[17.9,1.1]
];
const loviisaBlue95 = [
  [16.2,.42],[16.5,.43],[16.8,.41],[17.1,.42],[17.4,.43],[17.7,.41],[16.3,.51],[16.6,.52],[16.9,.5],[17.2,.51],[17.5,.52],[17.8,.5],
  [16.2,.6],[16.5,.61],[16.8,.59],[17.1,.6],[17.4,.61],[17.7,.59],[16.3,.69],[16.6,.7],[16.9,.68],[17.2,.69],[17.5,.7],[17.8,.68],
  [16.2,.78],[16.5,.79],[16.8,.77],[17.1,.78],[17.4,.79],[17.7,.77],[16.3,.87],[16.6,.88],[16.9,.86],[17.2,.87],[17.5,.88],[17.8,.86],
  [16.2,.96],[16.5,.97],[16.8,.95],[17.1,.96],[17.4,.97],[17.7,.95],[16.3,1.05],[16.6,1.06],[16.9,1.04],[17.2,1.05],[17.5,1.06],[17.8,1.04],
  [16.2,1.14],[16.5,1.15],[16.8,1.13],[17.1,1.14],[17.4,1.15],[17.7,1.13],[16.3,1.23],[16.6,1.24],[16.9,1.22],[17.2,1.23],[17.5,1.24],[17.8,1.22],
  [18.0,.42],[18.3,.43],[18.6,.41],[18.9,.42],[19.2,.43],[19.5,.41],[19.8,.42],[20.1,.43],[20.4,.41],[20.7,.42],[21.0,.43],
  [18.1,.5],[18.4,.51],[18.7,.49],[19.0,.5],[19.3,.51],[19.6,.49],[19.9,.5],[20.2,.51],[20.5,.49],[20.8,.5],
  [18.0,.58],[18.3,.59],[18.6,.57],[18.9,.58],[19.2,.59],[19.5,.57],[19.8,.58],[20.1,.59],[20.4,.57],[20.7,.58],[21.0,.59],
  [21.3,.45],[21.7,.5],[22.1,.42],[22.6,.48],[23.0,.44],[23.4,.5],[23.8,.42],[24.5,.45],[24.3,.55],[25.0,.58],[25.3,.62],[22.0,.6],[21.5,.58],[28.0,.47],
  [16.2,1.4],[16.6,1.45],[17.0,1.4],[17.4,1.48],[16.3,1.55],[16.8,1.6],[17.2,1.58],[17.6,1.55],[16.4,1.7],[16.9,1.78],[17.3,1.68],[16.1,1.86],
  [16.6,2.0],[17.4,2.05],[17.5,2.23],[17.4,2.26],[17.0,1.85],[16.3,1.32],[16.8,1.33],[17.3,1.31]
];
const loviisaBlueDense95 = [
  [16.3,.46],[16.6,.47],[16.9,.45],[17.3,.46],[17.6,.47],[16.2,.55],[16.5,.56],[16.8,.54],[17.2,.55],[17.5,.56],
  [16.3,.64],[16.6,.65],[16.9,.63],[17.3,.64],[17.6,.65],[16.2,.73],[16.5,.74],[16.8,.72],[17.2,.73],[17.5,.74],
  [16.3,.82],[16.6,.83],[16.9,.81],[17.3,.82],[17.6,.83],[16.2,.91],[16.5,.92],[16.8,.9],[17.2,.91],[17.5,.92],
  [16.3,1.0],[16.6,1.01],[16.9,.99],[17.3,1.0],[17.6,1.01],[16.2,1.09],[16.5,1.1],[16.8,1.08],[17.2,1.09],[17.5,1.1],
  [16.3,1.18],[16.6,1.19],[16.9,1.17],[17.3,1.18],[17.6,1.19],[16.2,1.27],[16.5,1.28],[16.9,1.26],[17.3,1.27],[17.6,1.28],
  [18.1,.46],[18.4,.47],[18.7,.45],[19.0,.46],[19.3,.47],[19.6,.45],[19.9,.46],[20.2,.47],[20.5,.45],[20.8,.46],
  [18.0,.54],[18.3,.55],[18.6,.53],[18.9,.54],[19.2,.55],[19.5,.53],[19.8,.54],[20.1,.55],[20.4,.53],[20.7,.54],[21.0,.55],
  [18.1,.62],[18.4,.63],[18.7,.61],[19.0,.62],[19.3,.63],[19.6,.61],[19.9,.62],[20.2,.63],[20.5,.61],[20.8,.62]
];
const loviisaRed95 = [
  [19.0,.55],[19.3,.6],[19.6,.58],[20.0,.6],[18.7,.6],[20.3,.6],[20.6,.55],[18.4,.5],[17.2,.6],[16.6,1.72],[16.8,1.68],[17.0,1.65],
  [16.8,.8],[17.5,1.0],[16.4,.55],[26.9,.62],[27.3,.63],[27.8,.67],[27.6,.62],[25.6,.55],[25.9,.55],[23.0,.5],[22.8,.48],[22.3,.55],
  [22.6,.62],[21.0,.6],[21.2,.5],[17.9,.45],[19.8,.45],[20.9,.48]
];

const panels = [
  { letter: 'a)', title: 'SWG95 Tornio Torppi',
    red: [...tornioRedCore, ...tornioSwitch, ...tornioRed95],
    blue: [...tornioBlueCore, ...tornioBlueDenseCore, ...tornioBlue95, ...tornioBlueDense95] },
  { letter: 'b)', title: 'SWG95 Eurajoki Olkiluoto',
    red: [...eurajokiRedCore, ...eurajokiSwitch, ...eurajokiRed95],
    blue: [...eurajokiBlueCore, ...eurajokiBlueDenseCore, ...eurajokiBlue95, ...eurajokiBlueDense95] },
  { letter: 'c)', title: 'SWG95 Turku Artukainen',
    red: [...turkuRedCore, ...turkuSwitch, ...turkuRed95],
    blue: [...turkuBlueCore, ...turkuBlueDenseCore, ...turkuBlue95, ...turkuBlueDense95] },
  { letter: 'd)', title: 'SWG95 Loviisa Hästholmen',
    red: [...loviisaRedCore, ...loviisaSwitch, ...loviisaRed95],
    blue: [...loviisaBlueCore, ...loviisaBlueDenseCore, ...loviisaBlue95, ...loviisaBlueDense95] },
  { letter: 'e)', title: 'SWG98 Tornio Torppi', red: tornioRedCore,
    blue: [...tornioBlueCore, ...tornioBlueDenseCore, ...tornioSwitch] },
  { letter: 'f)', title: 'SWG98 Eurajoki Olkiluoto', red: eurajokiRedCore,
    blue: [...eurajokiBlueCore, ...eurajokiBlueDenseCore, ...eurajokiSwitch] },
  { letter: 'g)', title: 'SWG98 Turku Artukainen', red: turkuRedCore,
    blue: [...turkuBlueCore, ...turkuBlueDenseCore, ...turkuSwitch] },
  { letter: 'h)', title: 'SWG98 Loviisa Hästholmen', red: loviisaRedCore,
    blue: [...loviisaBlueCore, ...loviisaBlueDenseCore, ...loviisaSwitch] }
];

// ---- layout ----
const plotLefts = [57, 389, 724, 1058];
const plotTops = [34, 339];
const plotW = 276, plotH = 234;
const padLeft = 57, padTop = 34, padRight = 10, axisBottom = 38;
const FONT = "'DejaVu Sans', 'Liberation Sans', sans-serif";

Chart.defaults.font.family = FONT;
Chart.defaults.color = '#222';

const toXY = arr => arr.map(([x, y]) => ({ x, y }));

// frame, panel titles and the legend box
const decorations = {
  id: 'decorations',
  afterDraw(chart, args, opts) {
    const { ctx, chartArea: { left, top, right, bottom } } = chart;
    ctx.save();
    ctx.strokeStyle = '#a3a3a3';
    ctx.lineWidth = 1;
    ctx.strokeRect(left + 0.5, top + 0.5, right - left - 1, bottom - top - 1);

    ctx.fillStyle = '#111';
    ctx.textBaseline = 'alphabetic';
    ctx.textAlign = 'left';
    ctx.font = '20px ' + FONT;
    ctx.fillText(opts.letter, left + 9, top - 4);
    ctx.textAlign = 'center';
    ctx.font = '14px ' + FONT;
    ctx.fillText(opts.title, (left + right) / 2, top - 6);

    // legend
    const bx = left + 4.5, by = top + 6.5, bw = 162, bh = 45;
    ctx.beginPath();
    ctx.roundRect(bx, by, bw, bh, 3);
    ctx.fillStyle = 'rgba(255,255,255,0.8)';
    ctx.fill();
    ctx.strokeStyle = '#d0d0d0';
    ctx.stroke();
    const entries = chart.data.datasets.slice(0, 2);
    const swatch = ['#ff0000', '#0000ff'];
    ctx.textAlign = 'left';
    ctx.textBaseline = 'middle';
    ctx.font = '14.5px ' + FONT;
    entries.forEach((ds, k) => {
      const cy = top + 18 + k * 21.5;
      ctx.fillStyle = swatch[k];
      ctx.fillRect(left + 12, cy - 5.5, 29, 11);
      ctx.fillStyle = '#111';
      ctx.fillText(ds.label, left + 53, cy + 1);
    });
    ctx.restore();
  }
};

panels.forEach((p, i) => {
  const col = i % 4, row = Math.floor(i / 4);
  const canvas = document.createElement('canvas');
  const w = padLeft + plotW + padRight, h = padTop + plotH + axisBottom;
  canvas.width = w; canvas.height = h;
  canvas.style.width = w + 'px'; canvas.style.height = h + 'px';
  canvas.style.left = (plotLefts[col] - padLeft) + 'px';
  canvas.style.top = (plotTops[row] - padTop) + 'px';
  canvas.className = 'panel';
  document.body.appendChild(canvas);

  const dash = { type: 'line', borderColor: '#000', borderWidth: 2, borderDash: [7, 4],
                 pointRadius: 0, fill: false, order: -1 };

  new Chart(canvas, {
    type: 'scatter',
    data: {
      datasets: [
        { label: 'Duration ≥ 12h', data: toXY(p.red), backgroundColor: 'rgba(255,0,0,0.6)',
          pointRadius: 3.2, pointHoverRadius: 3.2, borderWidth: 0 },
        { label: 'Duration < 12h', data: toXY(p.blue), backgroundColor: 'rgba(0,0,255,0.6)',
          pointRadius: 3.2, pointHoverRadius: 3.2, borderWidth: 0 },
        { ...dash, data: [{ x: xRange[0], y: snowLimit }, { x: xRange[1], y: snowLimit }] },
        { ...dash, data: [{ x: gustLimit, y: yRange[0] }, { x: gustLimit, y: yRange[1] }] }
      ]
    },
    options: {
      responsive: false,
      animation: false,
      devicePixelRatio: 1,
      layout: { padding: { left: 0, top: padTop, right: padRight, bottom: 0 } },
      plugins: {
        legend: { display: false },
        tooltip: { enabled: false },
        decorations: { letter: p.letter, title: p.title }
      },
      scales: {
        x: {
          type: 'linear', min: xRange[0], max: xRange[1], z: 1,
          afterBuildTicks: s => { s.ticks = xTickValues.map(v => ({ value: v })); },
          afterFit: s => { s.height = axisBottom; s.paddingLeft = 0; s.paddingRight = 0; },
          ticks: { font: { size: 14 }, color: '#222', padding: 3, maxRotation: 0 },
          grid: { color: 'rgba(176,176,176,0.5)', tickColor: '#444', tickLength: 4 },
          border: { color: '#a3a3a3' },
          title: { display: true, text: 'Wind Gust (m/s)', font: { size: 14 }, color: '#222',
                   padding: { top: 0, bottom: 2 } }
        },
        y: {
          type: 'linear', min: yRange[0], max: yRange[1], z: 1,
          afterBuildTicks: s => { s.ticks = yTickValues.map(v => ({ value: v })); },
          afterFit: s => { s.width = padLeft; s.paddingTop = 0; s.paddingBottom = 0; },
          ticks: { font: { size: 14 }, color: '#222', padding: 3, callback: v => v.toFixed(1) },
          grid: { color: 'rgba(176,176,176,0.5)', tickColor: '#444', tickLength: 4 },
          border: { color: '#a3a3a3' },
          title: { display: true, text: 'Snowfall (mm/h)', font: { size: 14 }, color: '#222',
                   padding: { top: 11, bottom: 0 } }
        }
      }
    },
    plugins: [decorations]
  });
});
</script>
</body>
</html>
